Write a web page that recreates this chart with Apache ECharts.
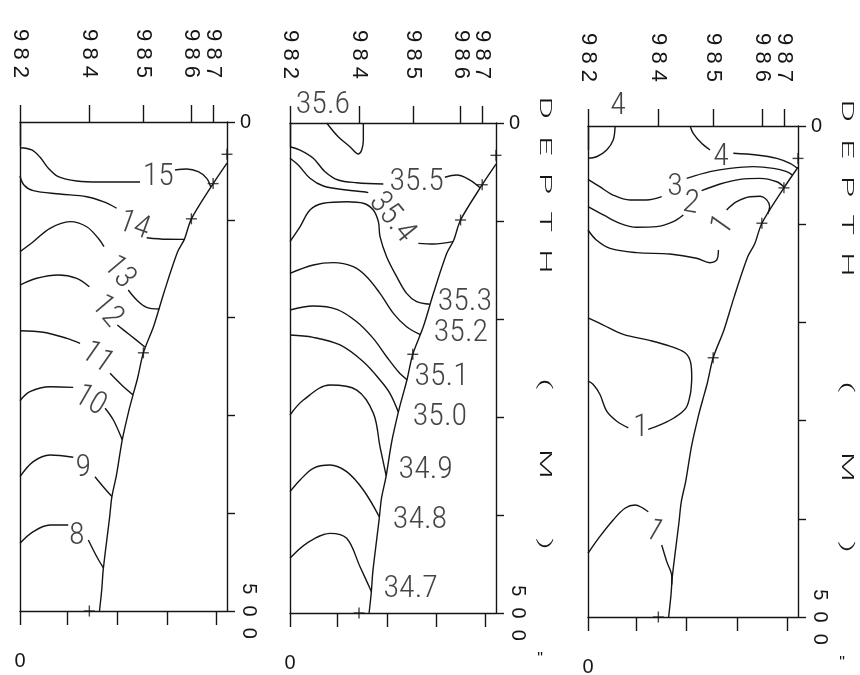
<!DOCTYPE html>
<html>
<head>
<meta charset="utf-8">
<script src="https://cdn.jsdelivr.net/npm/echarts@6/dist/echarts.min.js"></script>
<style>
  html, body { margin: 0; padding: 0; background: #fff; }
  #chart { width: 860px; height: 675px; }
</style>
</head>
<body>
<div id="chart"></div>
<script>
// ---- Section geometry: along-section position (0-100) and depth (m) ----
const stationX     = [0, 33.5, 59.6, 82.8, 93.3, 100];
const stationNames = ['982', '984', '985', '986', '987', '988'];
const stationDepth = [null, 500, 236, 99, 63, 33];
const distTicks    = [0, 23, 47, 71, 95];
const depthTicks   = [0, 100, 200, 300, 400, 500];

// sea floor profile [position, depth]
const seafloor = [[100, 42], [93.3, 63], [82.8, 99], [79.4, 120], [76.1, 133], [69.6, 174],
  [64.7, 208], [59.6, 236], [56.8, 262], [54.6, 279], [52.6, 295], [49.4, 325], [46.6, 361],
  [44.4, 383], [43.3, 404], [40.2, 458], [39.5, 478], [38.4, 500]];

// ---- Temperature (deg C) isolines: each level is a list of line pieces ----
const tempLevels = ['15', '14', '13', '12', '11', '10', '9', '8'];
const tempLines = [
  [[[0, 26.3], [5.7, 28.6], [9.7, 36.1], [13.7, 47.3], [18.5, 55.9], [27.4, 60.3], [38.6, 61.4], [58, 61.4]],
   [[74.9, 49.1], [80.5, 48.1], [86.1, 50.8], [90.2, 57.6], [92.2, 66.8]]],
  [[[0, 55.2], [1.9, 64.4], [6.4, 70.2], [19.3, 73.6], [32.2, 76.4], [40.2, 81.5], [46.7, 88.2]],
   [[61.2, 118.3], [70.9, 119.9], [79.4, 120]]],
  [[[0, 132.6], [6.4, 122.4], [14.5, 108.7], [24.2, 101.9], [32.2, 107.1], [37.8, 118.9], [40.6, 127.5]],
   [[52.3, 171.8], [56.4, 182], [61.2, 189.5], [67.3, 191.2]]],
  [[[0, 166.7], [8.1, 159.8], [18.5, 156.4], [27.4, 159.8], [33.5, 168.4]],
   [[47, 207.6], [53.1, 217.8], [60.3, 230]]],
  [[[0, 213.4], [11.3, 215], [22.6, 221.2], [29, 226.3]],
   [[43.5, 257], [49.1, 268.9], [54.6, 279]]],
  [[[0, 285], [4.8, 275.8], [14.5, 270.7], [25.7, 271.3]],
   [[41.1, 292.7], [45.1, 304.7], [49.4, 325]]],
  [[[0, 362.7], [6.4, 347.3], [14.5, 340.5], [25.7, 342.8]],
   [[36.2, 362.7], [40.2, 372.9], [44.4, 383]]],
  [[[0, 430.8], [6.4, 418.9], [14.5, 412.1], [23.3, 412.1]],
   [[33, 427.4], [37.1, 444.5], [40.3, 456]]]
];
// label anchor [position, depth, rotation]
const tempLabelAt = [[66.8, 56.7, 0], [55.1, 106.3, -20], [47.8, 153.9, -50], [41.9, 194, -50],
  [37.1, 241.3, -35], [33.8, 285.3, -30], [30.6, 353.3, 0], [27.4, 423.1, 0]];

// ---- Salinity isolines ----
const salLevels = ['35.6', '35.5', '35.4', '35.3', '35.2', '35.1', '35.0', '34.9', '34.8', '34.7'];
const salLines = [
  [[[17.8, 0], [23.4, 14], [29.1, 24.2], [33.2, 31.6], [34.8, 27.6], [35.6, 17.3], [35.6, 0]]],
  [[[0, 24.2], [4.9, 27.6], [11.3, 36], [17, 49.7], [23.4, 58.2], [32.4, 60.9], [45.3, 62.2]],
   [[75.2, 55.4], [80.9, 53.1], [87.4, 58.2], [92.2, 66]]],
  [[[0, 36], [4, 42.9], [9.7, 56.4], [16.2, 64.3], [27.5, 68.4], [35.6, 70.1], [38, 71.1]],
   [[62.3, 122.8], [69.6, 123.5], [79.2, 121]]],
  [[[0, 121.1], [4.9, 105.8], [9.7, 88.8], [16.2, 81.9], [27.5, 80.3], [35.6, 81.9], [40.4, 88.8],
    [42.9, 100.7], [43.7, 116], [46.9, 136.4], [51.8, 156.8], [56.6, 173.8], [61.5, 182.3], [67.9, 185]]],
  [[[0, 153.4], [11.3, 144.9], [21, 142.5], [30.7, 146.6], [37.2, 156.8], [43.7, 173.8], [50.2, 194.2],
    [56.6, 207.9], [63.3, 216]]],
  [[[0, 190.8], [11.3, 186.7], [22.7, 190.1], [32.4, 202.8], [40.4, 219.8], [46.9, 238.5], [52.6, 253.8], [56.8, 262]]],
  [[[0, 216.3], [11.3, 218.7], [24.3, 226.5], [35.6, 243.6], [43.7, 262.2], [48.5, 275.8], [52.6, 295]]],
  [[[0, 298], [6.5, 282.7], [19.4, 267.4], [32.4, 272.5], [40.5, 296.3], [43.7, 330.4], [46.7, 360]]],
  [[[0, 376.2], [4.9, 364.3], [11.3, 352.3], [19.4, 349], [27.5, 355.8], [35.6, 374.5], [43.4, 402]]],
  [[[0, 444.2], [8.1, 428.9], [19.4, 418.7], [27.5, 423.8], [34, 452.8], [39.5, 478]]]
];
const salLabelAt = [[16, -18.4, 0], [61.5, 59.9, 0], [49.4, 96.7, -51], [84.9, 182.3, 0], [83, 214.3, 0],
  [73.6, 258.9, 0], [72.8, 300.5, 0], [65.9, 354.1, 0], [63.1, 405.1, 0], [58.6, 475.7, 0]];

// ---- Dissolved oxygen isolines ----
const oxyLevels = ['4', '4', '3', '2', '1', '1', '1'];
const oxyLines = [
  [[[12.9, 0], [12, 14.3], [8.9, 24.4], [4.1, 31.3], [0, 32.9]]],
  [[[48.6, 0], [50.1, 7.4], [54.1, 17.6], [58.1, 24.4]],
   [[69.2, 27.8], [80.3, 29.5], [89.9, 32.9], [96.2, 38], [99.7, 43]]],
  [[[0, 54.3], [5.6, 61.8], [11.9, 70.3], [20, 75.4], [27.9, 75.4], [35.1, 72]],
   [[47, 53.3], [58.1, 46.5], [67.6, 43.1], [78.7, 41.4], [88.3, 43.1], [94.6, 46.5], [97.4, 50]]],
  [[[0, 82.2], [7.3, 90.6], [15.2, 99.1], [23.2, 103.1], [32.7, 102.5], [40.6, 97.4], [45.4, 90.6]],
   [[54.1, 65.9], [62.9, 59.1], [72.4, 54.3], [81.9, 53.3], [89.9, 56.8], [93.5, 62.5]]],
  [[[0, 105.9], [4, 116.1], [10.5, 124.6], [23.2, 129], [39, 130.4], [51.7, 134.7], [58.1, 139.2], [61.3, 136.4], [62.1, 126.3]],
   [[66, 85.5], [70.8, 77.1], [77.1, 72], [82, 71.5], [85, 75], [86.5, 82], [85.6, 89.5]]],
  [[[0, 195.3], [7.3, 202.7], [16.8, 212.2], [29.4, 218.3], [39, 224.1], [46.2, 230.9], [48.9, 241.1], [49.4, 256.4],
    [49.1, 267], [48.7, 273.4], [46.7, 287], [41.1, 297.1], [34.9, 303.9], [28.7, 309]],
   [[19.2, 307.4], [13.7, 300.6], [8.9, 290.4], [5.7, 273.4], [2.5, 263.2], [0, 259.9]]],
  [[[0, 435.1], [5.6, 418.2], [12, 401.2], [17.6, 389.3], [22.4, 385.9], [26.3, 389.3], [28.7, 392.8]],
   [[35.1, 426.7], [37.5, 443.6], [39.9, 458.9], [39.9, 467]]]
];
const oxyLabelAt = [[14.3, -20.4, 0], [63.3, 31.3, 0], [41.4, 62.6, 0], [49, 79.4, -10],
  [64.4, 101.6, 55], [25.1, 307.8, 0], [31.3, 413.1, -30]];

// ---- drawing ----
const INK = '#151515';
const FONT_HAND = "'Roboto Condensed', 'Liberation Sans Narrow', 'Roboto', sans-serif";
const FONT_AXIS = "'Liberation Sans', 'DejaVu Sans', sans-serif";
const axisLine = { color: INK, width: 1.4 };
const spaced = (s, n) => String(s).split('').join(' '.repeat(n));
const axisFont = size => ({ fontFamily: FONT_AXIS, fontSize: size, color: INK });

const panels = [
  { box: { left: 20, top: 122, width: 207, height: 489 }, levels: tempLevels, lines: tempLines, labels: tempLabelAt, depthName: false },
  { box: { left: 290, top: 123, width: 206, height: 490 }, levels: salLevels, lines: salLines, labels: salLabelAt, depthName: true },
  { box: { left: 588, top: 126, width: 210, height: 491 }, levels: oxyLevels, lines: oxyLines, labels: oxyLabelAt, depthName: true }
];

const option = {
  animation: false,
  backgroundColor: '#ffffff',
  grid: [], xAxis: [], yAxis: [], series: [], graphic: []
};

panels.forEach((p, i) => {
  option.grid.push(Object.assign({ containLabel: false, outerBoundsMode: 'none' }, p.box));
  const xBase = option.xAxis.length;
  const yBase = option.yAxis.length;
  const xCommon = { gridIndex: i, type: 'value', min: 0, max: 100, splitLine: { show: false } };
  const yCommon = { gridIndex: i, type: 'value', min: 0, max: 500, inverse: true, splitLine: { show: false } };

  // station axis along the top
  option.xAxis.push(Object.assign({}, xCommon, {
    position: 'top',
    axisLine: { show: true, onZero: false, lineStyle: axisLine },
    axisTick: { show: true, customValues: stationX, length: 17, lineStyle: axisLine },
    axisLabel: Object.assign({
      show: true, customValues: stationX, rotate: 90, margin: 44,
      formatter: v => spaced(stationNames[stationX.indexOf(v)], 1)
    }, axisFont(22))
  }));
  // distance axis along the bottom
  option.xAxis.push(Object.assign({}, xCommon, {
    position: 'bottom',
    axisLine: { show: true, onZero: false, lineStyle: axisLine },
    axisTick: { show: true, customValues: distTicks, length: 14, lineStyle: axisLine },
    axisLabel: Object.assign({ show: true, customValues: [0], margin: 40, formatter: v => String(v) }, axisFont(20))
  }));
  // longer origin tick
  option.xAxis.push(Object.assign({}, xCommon, {
    position: 'bottom',
    axisLine: { show: false },
    axisTick: { show: true, customValues: [0], length: 24, lineStyle: axisLine },
    axisLabel: { show: false }
  }));

  // depth axis on the right
  option.yAxis.push(Object.assign({}, yCommon, {
    position: 'right',
    axisLine: { show: true, onZero: false, lineStyle: axisLine },
    axisTick: { show: true, customValues: depthTicks, length: 8, lineStyle: axisLine },
    axisLabel: Object.assign({ show: true, customValues: [0], margin: 13, formatter: v => String(v),
      padding: [0, 0, 6, 0] }, axisFont(20))
  }));
  option.yAxis.push(Object.assign({}, yCommon, {
    position: 'right',
    axisLine: { show: false }, axisTick: { show: false },
    axisLabel: Object.assign({ show: true, customValues: [500], rotate: -90, margin: 12,
      formatter: v => spaced(v, 2) }, axisFont(20))
  }));
  // left frame edge
  option.yAxis.push(Object.assign({}, yCommon, {
    position: 'left',
    axisLine: { show: true, onZero: false, lineStyle: axisLine },
    axisTick: { show: false }, axisLabel: { show: false }
  }));

  const on = { xAxisIndex: xBase, yAxisIndex: yBase };

  // isolines
  p.lines.forEach((pieces, k) => {
    pieces.forEach(seg => {
      option.series.push(Object.assign({
        type: 'line', name: p.levels[k], data: seg, smooth: 0.35, symbol: 'none',
        lineStyle: { color: INK, width: 1.4 }, silent: true, z: 2
      }, on));
    });
  });

  // sea floor
  option.series.push(Object.assign({
    type: 'line', data: seafloor, smooth: 0.3, symbol: 'none',
    lineStyle: { color: INK, width: 1.4 }, silent: true, z: 3
  }, on));

  // station bottom markers (+)
  const marks = stationX.map((x, k) => stationDepth[k] == null ? null : [x, stationDepth[k]]).filter(Boolean);
  [[1.4, 11], [11, 1.4]].forEach(sz => {
    option.series.push(Object.assign({
      type: 'scatter', data: marks, symbol: 'rect', symbolSize: sz, clip: false,
      itemStyle: { color: INK }, silent: true, z: 4
    }, on));
  });

  // isoline labels
  option.series.push(Object.assign({
    type: 'scatter', clip: false, symbolSize: 1, silent: true, z: 5,
    itemStyle: { color: 'rgba(0,0,0,0)' },
    data: p.labels.map((a, k) => ({ name: p.levels[k], value: [a[0], a[1]], label: { rotate: a[2] } })),
    label: { show: true, position: 'inside', formatter: '{b}', fontFamily: FONT_HAND,
      fontWeight: 300, fontSize: 32, color: INK }
  }, on));

  // axis title on the right
  if (p.depthName) {
    const cx = p.box.left + p.box.width + 48;
    const base = { font: "300 17px 'Roboto', 'Liberation Sans', sans-serif", fill: INK,
      align: 'center', verticalAlign: 'middle', textAlign: 'center', textVerticalAlign: 'middle' };
    option.graphic.push({ type: 'text', x: cx, y: p.box.top + 62, rotation: -Math.PI / 2, scaleX: 2.05,
      style: Object.assign({ text: 'D  E  P  T  H' }, base), silent: true });
    option.graphic.push({ type: 'text', x: cx, y: p.box.top + 341, rotation: -Math.PI / 2, scaleX: 2.05,
      style: Object.assign({ text: '(       M       )' }, base), silent: true });
    option.graphic.push({ type: 'text', x: cx - 4, y: p.box.top + p.box.height + 47,
      style: Object.assign({}, base, { text: '"', font: "16px 'Liberation Sans', sans-serif" }), silent: true });
  }
});

const chart = echarts.init(document.getElementById('chart'), null, { renderer: 'canvas' });
chart.setOption(option);
</script>
</body>
</html>
